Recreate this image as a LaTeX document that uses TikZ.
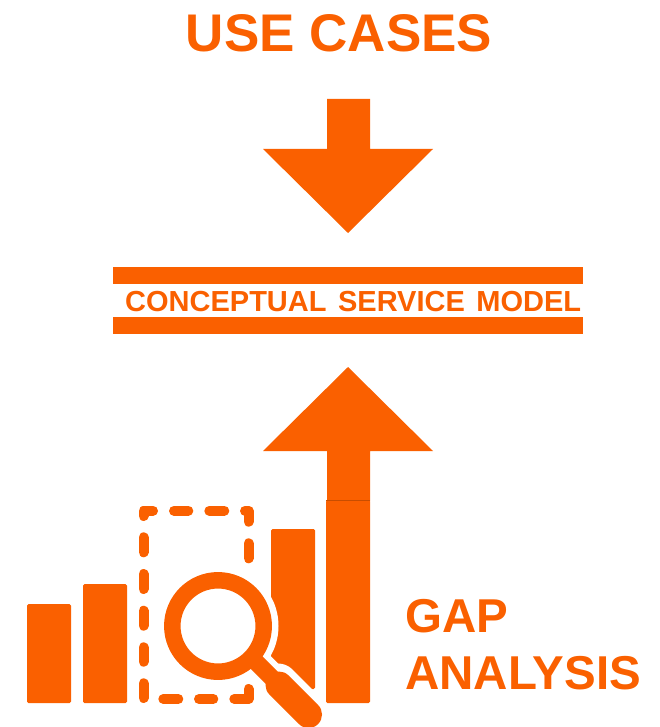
\documentclass[tikz,border=0pt]{standalone}
\usepackage{fontspec}
\setmainfont{Liberation Sans}
\definecolor{sporange}{HTML}{FA6000}
\tikzset{
    bar/.style={fill=sporange, rounded corners=1.5pt},
    halo/.style={white, line cap=round},
    dashpiece/.style={sporange, line width=10pt, line cap=round, line join=round},
    label/.style={text=sporange, inner sep=0pt, font=\bfseries}
}

\begin{document}
\begin{tikzpicture}[x=1pt, y=-1pt]
    \useasboundingbox (0, 0) rectangle (660, 727);
    \clip (0, 0) rectangle (660, 727);

    % headings
    \node[label, font=\fontsize{53}{53}\selectfont\bfseries, anchor=base] (usecases) at (339, 52) {USE CASES};
    \node[label, font=\fontsize{29}{29}\selectfont\bfseries, anchor=base west] (model) at (125, 311) {\spaceskip=11.5pt CONCEPTUAL SERVICE MODEL};
    \node[label, font=\fontsize{47.5}{57}\selectfont\bfseries, align=left, anchor=base west] (gap) at (405, 689) {GAP\\ANALYSIS};

    % arrows
    \fill[sporange] (327, 99) -- (370, 99) -- (370, 149) -- (433, 149) -- (348, 233) -- (263, 149) -- (327, 149) -- cycle;
    \fill[sporange] (327, 501) -- (370, 501) -- (370, 451) -- (433, 451) -- (348, 367) -- (263, 451) -- (327, 451) -- cycle;

    % model bars
    \fill[sporange] (113, 267) rectangle (583, 283.5);
    \fill[sporange] (113, 317) rectangle (583, 333.5);

    % chart
    \fill[bar] (27, 604) rectangle (71, 703);
    \fill[bar] (83, 584) rectangle (127, 703);
    \fill[sporange, rounded corners=1.5pt] (271, 689) |- (315, 529) -- (315, 689) -- cycle;
    \fill[bar] (326, 500) rectangle (370, 703);
    \draw[black!20!sporange, line width=0.6pt] (326, 500) -- (370, 500);

    % cut the third bar round the lens
    \fill[white] (218, 626) circle (60.5);
    \draw[halo, line width=32pt] (250, 658) -- (272, 680);
    \draw[halo, line width=41pt] (278, 684) -- (325, 731);

    % dashed frame
    \draw[dashpiece] (143.5, 516) -- (143.5, 510.7) -- (153, 510.7);
    \foreach \xa/\xb in {174/188.3, 209.3/224.3}
        \draw[dashpiece] (\xa, 510.7) -- (\xb, 510.7);
    \draw[dashpiece] (245, 510.7) -- (248.5, 510.7) -- (248.5, 521.7);
    \draw[dashpiece] (248.5, 543.3) -- (248.5, 558.3);
    \foreach \ya/\yb in {537.3/552.3, 574/589, 610.7/625.7, 647.3/661.7, 683.3/698}
        \draw[dashpiece] (143.5, \ya) -- (143.5, \yb);
    \foreach \xa/\xb in {163.3/178.3, 199/213.3}
        \draw[dashpiece] (\xa, 699) -- (\xb, 699);
    \draw[dashpiece] (234.3, 699) -- (248.5, 699) -- (248.5, 689);

    % magnifier
    \draw[sporange, line width=17pt] (255, 661) -- (280, 686);
    \draw[sporange, line width=27pt, line cap=round] (279, 685) -- (308.5, 714.5);
    \draw[sporange, line width=16.5pt] (218, 626) circle (45.7);
\end{tikzpicture}
\end{document}
